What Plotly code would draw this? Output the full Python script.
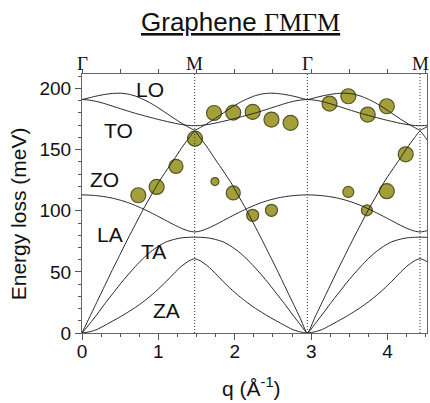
import plotly.graph_objects as go

# Γ–M distance along the path (Å^-1)
GM = 1.475

# sampling of one Γ→M leg (distance from Γ, Å^-1)
d_leg = [0.0, 0.1, 0.2, 0.3, 0.4, 0.5, 0.6, 0.7, 0.8, 0.9, 1.0, 1.1, 1.2, 1.3, 1.4, 1.475]

# phonon branches along Γ→M (meV)
LO = [191, 192.5, 194, 195.2, 196, 196.2, 195.5, 193.8, 191.2, 188, 184.2, 180, 175.8, 171.8, 168.2, 166]
TO = [191, 190.5, 189.3, 187.6, 185.6, 183.6, 181.6, 179.7, 178, 176.3, 174.7, 173.2, 171.8, 170.6, 169.8, 169.6]
ZO = [113, 112.8, 112.3, 111.5, 110.3, 108.7, 106.7, 104.3, 101.5, 98.5, 95.3, 92, 88.7, 85.7, 83.4, 82.7]
LA = [0, 13, 26, 39, 52, 64.5, 77, 89, 101, 112, 123, 132.5, 141.5, 151, 159.5, 165]
TA = [0, 7.5, 15.5, 24, 32, 40, 47.5, 54.5, 61, 66.5, 71, 74.5, 76.5, 77.8, 78.3, 78.4]
ZA = [0, 1, 3, 6.3, 9.7, 13.2, 17, 21, 25.5, 30.5, 36, 42, 48.5, 54.5, 59, 60.8]

# HREELS loss peaks: momentum (Å^-1), energy (meV), symbol diameter (px)
peak_q = [0.737, 0.977, 1.23, 1.479, 1.728, 1.98, 2.234, 2.48, 2.73, 3.24, 3.486,
          3.74, 3.99, 4.237, 1.74, 1.98, 2.234, 2.48, 3.486, 3.73, 3.99]
peak_E = [112.7, 119.5, 136.4, 159, 180, 180.3, 180.9, 174.6, 171.9, 187.7, 193.7,
          178.7, 185.5, 146.2, 123.9, 114.6, 96.3, 100.4, 115.4, 100.4, 116]
peak_size = [15, 15, 14, 15, 15, 15, 15, 15, 15, 15, 15,
             15, 15, 15, 8, 14, 12, 12, 11, 11, 15]

# branch labels: text, q, E
branch_labels = [("LO", 0.89, 199), ("TO", 0.478, 165.5), ("ZO", 0.29, 125.4),
                 ("LA", 0.366, 80.8), ("TA", 0.936, 66.3), ("ZA", 1.11, 18.6)]

# high-symmetry points along the top axis
sym_names = ["Γ", "M", "Γ", "M"]
sym_pos = [0, GM, 2 * GM, 3 * GM]

X_MAX = 4.516
Y_MAX = 211.9


def unfold(vals):
    """Lay a Γ→M branch out along the Γ-M-Γ-M path."""
    pts = list(zip(d_leg, vals))
    xs, ys = [], []
    for d, e in pts:                       # Γ → M
        xs.append(d); ys.append(e)
    for d, e in reversed(pts[:-1]):        # M → Γ
        xs.append(2 * GM - d); ys.append(e)
    for d, e in pts[1:]:                   # Γ → M
        xs.append(2 * GM + d); ys.append(e)
    for d, e in reversed(pts[:-1]):        # past M
        xs.append(4 * GM - d); ys.append(e)
    return xs, ys


SANS = "Liberation Sans, Arial, sans-serif"
SERIF = "Liberation Serif, Times New Roman, serif"
INK = "#111111"

fig = go.Figure()

fig.add_trace(go.Scatter(
    x=peak_q, y=peak_E, mode="markers",
    marker=dict(size=peak_size, color="#a3a03a", opacity=1,
                line=dict(color="#55542a", width=1.2)),
    showlegend=False, hoverinfo="skip"))

for vals in (LO, TO, ZO, LA, TA, ZA):
    xs, ys = unfold(vals)
    fig.add_trace(go.Scatter(
        x=xs, y=ys, mode="lines",
        line=dict(color="#262626", width=1, shape="spline", smoothing=0.6),
        showlegend=False, hoverinfo="skip"))

# dotted markers of the high-symmetry points
for p in sym_pos[1:]:
    fig.add_shape(type="line", xref="x", yref="paper", x0=p, x1=p, y0=0, y1=1,
                  line=dict(color="#333333", width=1, dash="1px,2px"))

for txt, q, e in branch_labels:
    fig.add_annotation(x=q, y=e, text=txt, showarrow=False,
                       xanchor="center", yanchor="middle",
                       font=dict(family=SANS, size=21, color=INK))

for name, p in zip(sym_names, sym_pos):
    fig.add_annotation(x=p, xref="x", y=1.042, yref="paper", text=name, showarrow=False,
                       xanchor="center", yanchor="middle",
                       font=dict(family=SERIF, size=19, color=INK))

fig.add_annotation(
    x=0.459, y=1.199, xref="paper", yref="paper", showarrow=False,
    xanchor="center", yanchor="middle",
    text="<u>Graphene <span style=\"font-family:'Liberation Serif'\">ΓMΓM</span></u>",
    font=dict(family=SANS, size=26, color=INK))

fig.add_annotation(x=0.492, y=-0.208, xref="paper", yref="paper", showarrow=False,
                   xanchor="center", yanchor="middle",
                   text="q (Å<sup>-1</sup>)", font=dict(family=SANS, size=21, color=INK))
fig.add_annotation(x=-0.185, y=0.459, xref="paper", yref="paper", showarrow=False,
                   xanchor="center", yanchor="middle",
                   text="Energy loss (meV)", textangle=-90,
                   font=dict(family=SANS, size=21, color=INK))

axis_line = dict(showline=True, linecolor="#666666", linewidth=1, showgrid=False, zeroline=False)

fig.update_layout(
    width=430, height=403,
    margin=dict(l=82, r=3, t=74, b=70),
    paper_bgcolor="white", plot_bgcolor="white",
    font=dict(family=SANS, size=19, color=INK),
    xaxis=dict(range=[0, X_MAX], tickmode="linear", tick0=0, dtick=1,
               ticks="outside", ticklen=6, tickcolor="#555555", ticklabelstandoff=-5,
               minor=dict(dtick=0.25, tick0=0, ticks="outside", ticklen=3, tickcolor="#555555"),
               mirror=False, **axis_line),
    xaxis2=dict(range=[0, X_MAX], overlaying="x", side="top", showticklabels=False,
                tickmode="linear", tick0=0, dtick=0.5, ticks="outside", ticklen=4,
                tickcolor="#555555", **axis_line),
    yaxis=dict(range=[0, Y_MAX], tickmode="linear", tick0=0, dtick=50,
               ticks="outside", ticklen=6, tickcolor="#555555",
               minor=dict(dtick=10, tick0=0, ticks="outside", ticklen=3, tickcolor="#555555"),
               mirror=True, **axis_line),
)

# invisible trace that activates the top axis
fig.add_trace(go.Scatter(x=[0], y=[0], xaxis="x2", mode="markers",
                         marker=dict(opacity=0), showlegend=False, hoverinfo="skip"))

fig.write_html("out.html")
